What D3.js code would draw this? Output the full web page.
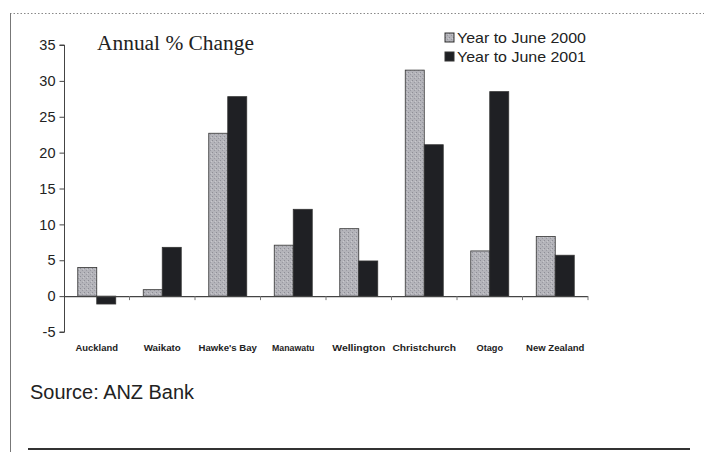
<!DOCTYPE html>
<html>
<head>
<meta charset="utf-8">
<script src="https://cdn.jsdelivr.net/npm/d3@7/dist/d3.min.js"></script>
<style>
  html, body { margin: 0; padding: 0; background: #fff; }
  svg { display: block; }
</style>
</head>
<body>
<svg id="chart" width="704" height="452"></svg>
<script>
// Regional annual % change, two years
const regions = ["Auckland", "Waikato", "Hawke's Bay", "Manawatu", "Wellington", "Christchurch", "Otago", "New Zealand"];
const series2000 = [4.0, 0.9, 22.7, 7.1, 9.4, 31.5, 6.3, 8.3];
const series2001 = [-1.1, 6.8, 27.8, 12.1, 4.9, 21.1, 28.5, 5.7];
const seriesNames = ["Year to June 2000", "Year to June 2001"];
const yTicks = [-5, 0, 5, 10, 15, 20, 25, 30, 35];

const svg = d3.select("#chart");

// pattern for the light, speckled bars
const defs = svg.append("defs");
const pat = defs.append("pattern")
  .attr("id", "speckle").attr("width", 4).attr("height", 4)
  .attr("patternUnits", "userSpaceOnUse");
pat.append("rect").attr("width", 4).attr("height", 4).attr("fill", "#b4b4ba");
pat.append("rect").attr("x", 0).attr("y", 0).attr("width", 1).attr("height", 1).attr("fill", "#8e8e96");
pat.append("rect").attr("x", 2).attr("y", 2).attr("width", 1).attr("height", 1).attr("fill", "#9a9aa2");
pat.append("rect").attr("x", 3).attr("y", 1).attr("width", 1).attr("height", 1).attr("fill", "#c8c8cc");

// frame: dotted top, solid left, heavy rule at the bottom
svg.append("line").attr("x1", 10).attr("x2", 704).attr("y1", 13.5).attr("y2", 13.5)
  .attr("stroke", "#888").attr("stroke-dasharray", "1.5,2").attr("stroke-width", 1);
svg.append("line").attr("x1", 10.5).attr("x2", 10.5).attr("y1", 13).attr("y2", 452)
  .attr("stroke", "#777").attr("stroke-width", 1);
svg.append("line").attr("x1", 28).attr("x2", 690).attr("y1", 449).attr("y2", 449)
  .attr("stroke", "#333").attr("stroke-width", 2);

const x0 = 64, x1 = 588;
const y = d3.scaleLinear().domain([-5, 35]).range([332, 45]);
const x = d3.scaleBand().domain(regions).range([x0, x1]).paddingInner(0.42).paddingOuter(0.21);
const xs = d3.scaleBand().domain(seriesNames).range([0, x.bandwidth()]);

// y axis
const yAxis = d3.axisLeft(y).tickValues(yTicks).tickSize(5).tickPadding(4).tickFormat(d => String(d));
const gy = svg.append("g").attr("transform", `translate(${x0 + 0.5},0)`).call(yAxis);
gy.select(".domain").attr("stroke", "#444").attr("d", `M-5,${y(35)}H0V${y(-5)}H-5`);
gy.selectAll(".tick line").attr("stroke", "#444");
gy.selectAll(".tick text").attr("font-family", "Liberation Sans, Arial, sans-serif")
  .attr("font-size", 14.5).attr("fill", "#222");

// bars
const data = regions.map((r, i) => ({ region: r, values: [series2000[i], series2001[i]] }));
const g = svg.append("g");
data.forEach(d => {
  d.values.forEach((v, j) => {
    g.append("rect")
      .attr("x", x(d.region) + xs(seriesNames[j]))
      .attr("width", xs.bandwidth())
      .attr("y", Math.min(y(v), y(0)))
      .attr("height", Math.abs(y(v) - y(0)))
      .attr("fill", j === 0 ? "url(#speckle)" : "#1f2024")
      .attr("stroke", "#333").attr("stroke-width", 0.8);
  });
});

// zero baseline with category dividers
const step = (x1 - x0) / regions.length;
svg.append("line").attr("x1", x0).attr("x2", x1).attr("y1", y(0) + 0.5).attr("y2", y(0) + 0.5)
  .attr("stroke", "#444").attr("stroke-width", 1.2);
d3.range(1, regions.length + 1).forEach(k => {
  svg.append("line").attr("x1", x0 + k * step).attr("x2", x0 + k * step)
    .attr("y1", y(0)).attr("y2", y(0) + 4).attr("stroke", "#777").attr("stroke-width", 1);
});

// category labels
svg.append("g").selectAll("text").data(regions).join("text")
  .attr("x", d => x(d) + x.bandwidth() / 2)
  .attr("y", 351)
  .attr("text-anchor", "middle")
  .attr("font-family", "Liberation Sans, Arial, sans-serif")
  .attr("font-size", 9).attr("font-weight", "bold")
  .attr("fill", "#222")
  .attr("textLength", d => d.length * 5.3)
  .attr("lengthAdjust", "spacingAndGlyphs")
  .text(d => d);

// title
svg.append("text").attr("x", 97).attr("y", 50)
  .attr("font-family", "Liberation Serif, Times New Roman, serif")
  .attr("font-size", 20.5).attr("fill", "#222")
  .attr("textLength", 157).attr("lengthAdjust", "spacingAndGlyphs")
  .text("Annual % Change");

// legend
const lg = svg.append("g").attr("transform", "translate(445,33)");
seriesNames.forEach((s, j) => {
  lg.append("rect").attr("x", 0).attr("y", j * 19).attr("width", 9).attr("height", 9)
    .attr("fill", j === 0 ? "url(#speckle)" : "#1f2024").attr("stroke", "#333").attr("stroke-width", 1);
  lg.append("text").attr("x", 12).attr("y", j * 19 + 10)
    .attr("font-family", "Liberation Sans, Arial, sans-serif")
    .attr("font-size", 15).attr("fill", "#222")
    .attr("textLength", 129).attr("lengthAdjust", "spacingAndGlyphs")
    .text(s);
});

// source note
svg.append("text").attr("x", 30).attr("y", 399)
  .attr("font-family", "Liberation Sans Narrow, Liberation Sans, Arial, sans-serif")
  .attr("font-size", 20).attr("fill", "#222")
  .attr("textLength", 164).attr("lengthAdjust", "spacingAndGlyphs")
  .text("Source: ANZ Bank");
</script>
</body>
</html>
